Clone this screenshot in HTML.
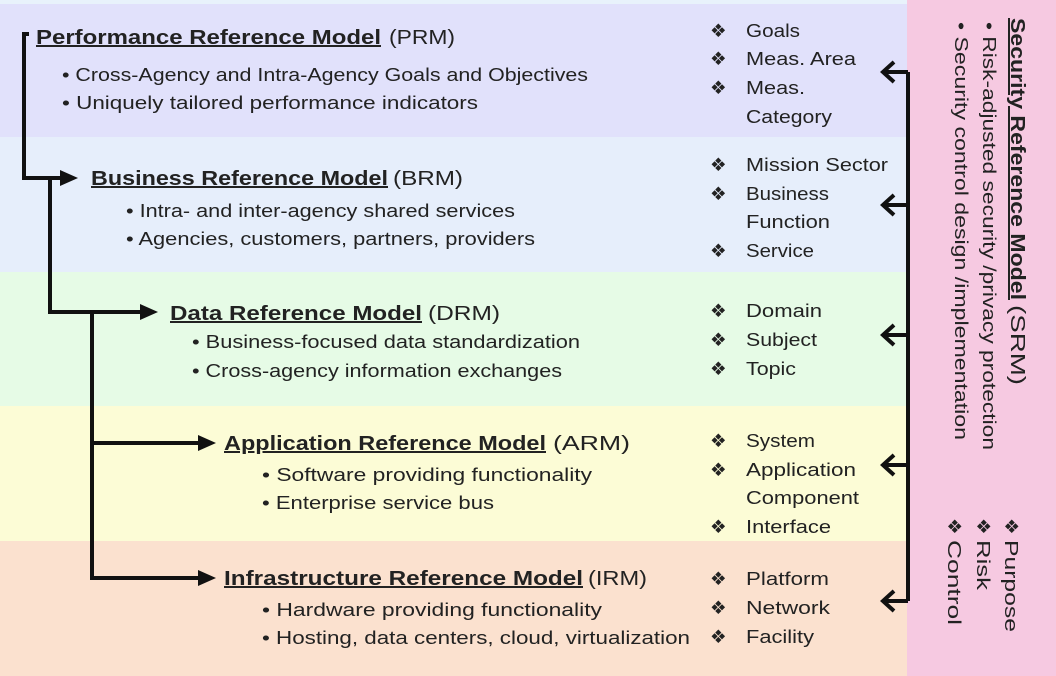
<!DOCTYPE html>
<html><head><meta charset="utf-8"><style>
html,body{margin:0;padding:0;width:1056px;height:676px;overflow:hidden;background:#fff}
svg text{font-family:"Liberation Sans",sans-serif;fill:#222}
.t{font-size:20px;font-weight:bold;text-decoration:underline}
.p{font-size:20px}
.b{font-size:18px}
.r{font-size:18.5px}
</style></head><body>
<svg width="1056" height="676" viewBox="0 0 1056 676" xmlns="http://www.w3.org/2000/svg">
<rect x="0" y="0" width="1056" height="4" fill="#e8f2fb"/>
<rect x="0" y="4" width="907" height="133" fill="#e1e1fb"/>
<rect x="0" y="137" width="907" height="135" fill="#e6eefb"/>
<rect x="0" y="272" width="907" height="134" fill="#e6fbe6"/>
<rect x="0" y="406" width="907" height="135" fill="#fcfcd6"/>
<rect x="0" y="541" width="907" height="135" fill="#fbe1cf"/>
<rect x="907" y="0" width="149" height="676" fill="#f6c9e1"/>

<g stroke="#111" stroke-width="4" fill="none">
<polyline points="29,34 24,34 24,178 62,178"/>
<polyline points="50,178 50,312 142,312"/>
<polyline points="92,312 92,578 200,578"/>
<line x1="92" y1="443" x2="200" y2="443"/>
</g>
<g fill="#111">
<polygon points="60,170 78,178 60,186"/>
<polygon points="140,304 158,312 140,320"/>
<polygon points="198,435 216,443 198,451"/>
<polygon points="198,570 216,578 198,586"/>
</g>
<g stroke="#111" stroke-width="4" fill="none">
<polyline points="908,72 908,601"/>
<line x1="884" y1="72" x2="908" y2="72"/>
<line x1="884" y1="205" x2="908" y2="205"/>
<line x1="884" y1="335" x2="908" y2="335"/>
<line x1="884" y1="465" x2="908" y2="465"/>
<line x1="884" y1="601" x2="908" y2="601"/>
<polyline points="894,62 883,72 894,82"/>
<polyline points="894,195 883,205 894,215"/>
<polyline points="894,325 883,335 894,345"/>
<polyline points="894,455 883,465 894,475"/>
<polyline points="894,591 883,601 894,611"/>
</g>

<g>
<text x="36" y="44" class="t" textLength="345" lengthAdjust="spacingAndGlyphs">Performance Reference Model</text>
<text x="389" y="44" class="p" textLength="66" lengthAdjust="spacingAndGlyphs">(PRM)</text>
<text x="62" y="81" class="b" textLength="526" lengthAdjust="spacingAndGlyphs">• Cross-Agency and Intra-Agency Goals and Objectives</text>
<text x="62" y="109" class="b" textLength="416" lengthAdjust="spacingAndGlyphs">• Uniquely tailored performance indicators</text>

<text x="91" y="185" class="t" textLength="297" lengthAdjust="spacingAndGlyphs">Business Reference Model</text>
<text x="393" y="185" class="p" textLength="70" lengthAdjust="spacingAndGlyphs">(BRM)</text>
<text x="126" y="217" class="b" textLength="389" lengthAdjust="spacingAndGlyphs">• Intra- and inter-agency shared services</text>
<text x="126" y="245" class="b" textLength="409" lengthAdjust="spacingAndGlyphs">• Agencies, customers, partners, providers</text>

<text x="170" y="320" class="t" textLength="252" lengthAdjust="spacingAndGlyphs">Data Reference Model</text>
<text x="428" y="320" class="p" textLength="72" lengthAdjust="spacingAndGlyphs">(DRM)</text>
<text x="192" y="348" class="b" textLength="388" lengthAdjust="spacingAndGlyphs">• Business-focused data standardization</text>
<text x="192" y="377" class="b" textLength="370" lengthAdjust="spacingAndGlyphs">• Cross-agency information exchanges</text>

<text x="224" y="450" class="t" textLength="322" lengthAdjust="spacingAndGlyphs">Application Reference Model</text>
<text x="553" y="450" class="p" textLength="77" lengthAdjust="spacingAndGlyphs">(ARM)</text>
<text x="262" y="481" class="b" textLength="330" lengthAdjust="spacingAndGlyphs">• Software providing functionality</text>
<text x="262" y="509" class="b" textLength="232" lengthAdjust="spacingAndGlyphs">• Enterprise service bus</text>

<text x="224" y="585" class="t" textLength="359" lengthAdjust="spacingAndGlyphs">Infrastructure Reference Model</text>
<text x="588" y="585" class="p" textLength="59" lengthAdjust="spacingAndGlyphs">(IRM)</text>
<text x="262" y="616" class="b" textLength="340" lengthAdjust="spacingAndGlyphs">• Hardware providing functionality</text>
<text x="262" y="644" class="b" textLength="428" lengthAdjust="spacingAndGlyphs">• Hosting, data centers, cloud, virtualization</text>
</g>

<g>
<text x="710" y="37" class="r">❖</text><text x="746" y="37" class="r" textLength="54" lengthAdjust="spacingAndGlyphs">Goals</text>
<text x="710" y="65" class="r">❖</text><text x="746" y="65" class="r" textLength="110" lengthAdjust="spacingAndGlyphs">Meas. Area</text>
<text x="710" y="94" class="r">❖</text><text x="746" y="94" class="r" textLength="59" lengthAdjust="spacingAndGlyphs">Meas.</text>
<text x="746" y="123" class="r" textLength="86" lengthAdjust="spacingAndGlyphs">Category</text>
<text x="710" y="171" class="r">❖</text><text x="746" y="171" class="r" textLength="142" lengthAdjust="spacingAndGlyphs">Mission Sector</text>
<text x="710" y="200" class="r">❖</text><text x="746" y="200" class="r" textLength="83" lengthAdjust="spacingAndGlyphs">Business</text>
<text x="746" y="228" class="r" textLength="84" lengthAdjust="spacingAndGlyphs">Function</text>
<text x="710" y="257" class="r">❖</text><text x="746" y="257" class="r" textLength="68" lengthAdjust="spacingAndGlyphs">Service</text>
<text x="710" y="317" class="r">❖</text><text x="746" y="317" class="r" textLength="76" lengthAdjust="spacingAndGlyphs">Domain</text>
<text x="710" y="346" class="r">❖</text><text x="746" y="346" class="r" textLength="71" lengthAdjust="spacingAndGlyphs">Subject</text>
<text x="710" y="375" class="r">❖</text><text x="746" y="375" class="r" textLength="50" lengthAdjust="spacingAndGlyphs">Topic</text>
<text x="710" y="447" class="r">❖</text><text x="746" y="447" class="r" textLength="69" lengthAdjust="spacingAndGlyphs">System</text>
<text x="710" y="476" class="r">❖</text><text x="746" y="476" class="r" textLength="110" lengthAdjust="spacingAndGlyphs">Application</text>
<text x="746" y="504" class="r" textLength="113" lengthAdjust="spacingAndGlyphs">Component</text>
<text x="710" y="533" class="r">❖</text><text x="746" y="533" class="r" textLength="85" lengthAdjust="spacingAndGlyphs">Interface</text>
<text x="710" y="585" class="r">❖</text><text x="746" y="585" class="r" textLength="83" lengthAdjust="spacingAndGlyphs">Platform</text>
<text x="710" y="614" class="r">❖</text><text x="746" y="614" class="r" textLength="84" lengthAdjust="spacingAndGlyphs">Network</text>
<text x="710" y="643" class="r">❖</text><text x="746" y="643" class="r" textLength="68" lengthAdjust="spacingAndGlyphs">Facility</text>
</g>

<g transform="translate(1011,18) rotate(90)">
<text x="0" y="0" class="t" textLength="282" lengthAdjust="spacingAndGlyphs">Security Reference Model</text>
<text x="287" y="0" class="p" textLength="80" lengthAdjust="spacingAndGlyphs">(SRM)</text>
</g>
<g transform="translate(983,22) rotate(90)">
<text x="0" y="0" class="b" textLength="428" lengthAdjust="spacingAndGlyphs">• Risk-adjusted security /privacy protection</text>
</g>
<g transform="translate(955,22) rotate(90)">
<text x="0" y="0" class="b" textLength="418" lengthAdjust="spacingAndGlyphs">• Security control design /implementation</text>
</g>
<g transform="translate(1005,518) rotate(90)"><text x="0" y="0" class="r">❖</text><text x="22" y="0" class="r" textLength="92" lengthAdjust="spacingAndGlyphs">Purpose</text></g>
<g transform="translate(977,518) rotate(90)"><text x="0" y="0" class="r">❖</text><text x="22" y="0" class="r" textLength="50" lengthAdjust="spacingAndGlyphs">Risk</text></g>
<g transform="translate(948,518) rotate(90)"><text x="0" y="0" class="r">❖</text><text x="22" y="0" class="r" textLength="85" lengthAdjust="spacingAndGlyphs">Control</text></g>
</svg>
</body></html>
